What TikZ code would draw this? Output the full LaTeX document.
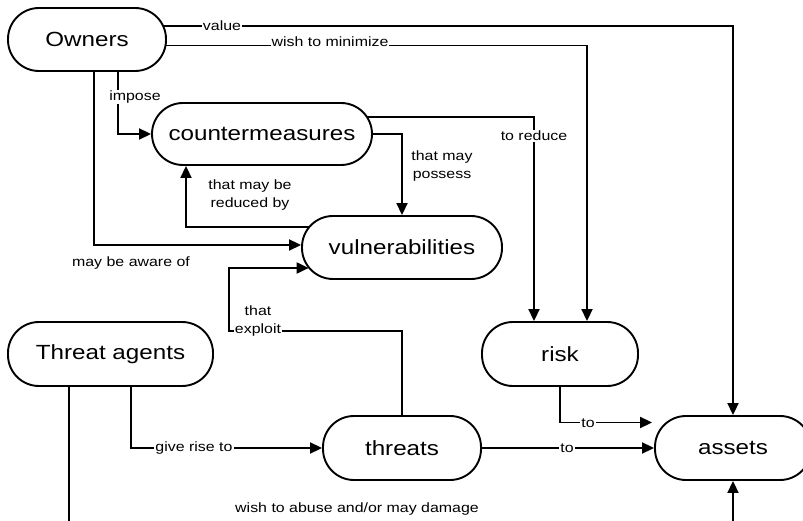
\documentclass[tikz,border=0pt]{standalone}
\usepackage{fontspec}
\setmainfont{Liberation Sans}[FakeStretch=1.18]
\usetikzlibrary{arrows.meta,calc,backgrounds}
\tikzset{
  box/.style={draw, line width=1.9pt, fill=white, rounded corners=31pt,
    minimum height=63pt, inner sep=0pt, font=\fontsize{20.5}{24}\selectfont},
  conn/.style={line width=1.9pt, -{Triangle[length=12pt,width=11pt]}},
  lbl/.style={fill=white, inner sep=1pt, font=\fontsize{13.5}{18}\selectfont, align=center},
  freelbl/.style={inner sep=1pt, font=\fontsize{13.5}{18}\selectfont, align=center}
}
\begin{document}
\begin{tikzpicture}[x=1pt,y=-1pt]
\useasboundingbox (0,0) rectangle (803,521);
\clip (0,0) rectangle (803,521);
% nodes
\node[box, minimum width=158pt] (own) at (87,39.5) {Owners};
\node[box, minimum width=220pt, minimum height=62pt] (cm) at (262,134) {countermeasures};
\node[box, minimum width=200pt] (vul) at (402,247.5) {vulnerabilities};
\node[box, minimum width=205pt, minimum height=64pt] (ta) at (110.5,354) {Threat agents};
\node[box, minimum width=158pt, minimum height=64pt] (thr) at (402,448) {threats};
\node[box, minimum width=156pt, minimum height=64pt] (risk) at (560,354) {risk};
\node[box, minimum width=156pt, minimum height=64pt] (ast) at (733,448) {assets};
\coordinate (exA) at (229,331);
% connectors
\begin{scope}[on background layer]
\clip (0,0) rectangle (803,521);
\draw[conn] ($(own.center)+(0,-13.5)$) -| (ast.north);
\draw[conn] ($(own.center)+(0,6)$) -| ($(risk.north)+(27,0)$);
\draw[conn] ($(own.center)+(31,0)$) |- (cm.west);
\draw[conn] ($(own.center)+(7,0)$) |- ($(vul.west)+(0,-2.5)$);
\draw[conn] (cm.center) -| (vul.north);
\draw[conn] ($(cm.center)+(0,-17)$) -| ($(risk.north)+(-26,0)$);
\draw[conn] ($(vul.center)+(0,-20.5)$) -| ($(cm.south)+(-76,0)$);
\draw[conn] (thr.north) |- (exA) |- ($(vul.west)+(7.6,20.5)$);
\draw[conn] ($(ta.center)+(20.5,0)$) |- (thr.west);
\draw[conn] ($(ta.center)+(-41.5,0)$) -- ++(0,200) -| (ast.south);
\draw[conn] (risk.center) |- ($(ast.west)+(-2,-25.5)$);
\draw[conn] (thr.east) -- (ast.west);
\end{scope}
% labels
\node[lbl] (l1) at (222,26) {value};
\node[lbl] (l2) at (330,42) {wish to minimize};
\node[lbl] (l3) at (135,97) {impose};
\node[freelbl] (l4) at (442,166) {that may\\possess};
\node[lbl] (l5) at (534,136) {to reduce};
\node[freelbl] (l6) at (250,195) {that may be\\reduced by};
\node[freelbl] (l7) at (131,263) {may be aware of};
\node[lbl] (l8) at (258,321) {that\\exploit};
\node[lbl] (l9) at (194,448) {give rise to};
\node[lbl] (l10) at (588,423) {to};
\node[lbl] (l11) at (567,448) {to};
\node[freelbl] (l12) at (357,509) {wish to abuse and/or may damage};
\end{tikzpicture}
\end{document}
